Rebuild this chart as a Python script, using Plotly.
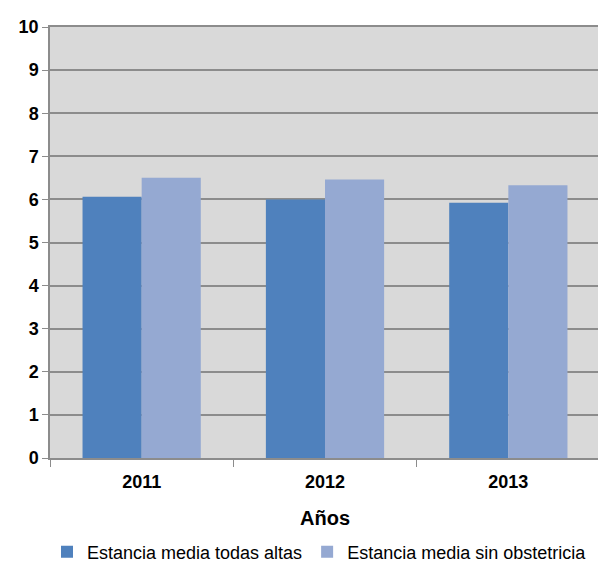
import plotly.graph_objects as go

years = ["2011", "2012", "2013"]
todas_altas = [6.06, 6.00, 5.92]
sin_obstetricia = [6.50, 6.46, 6.33]
y_ticks = list(range(0, 11))

fig = go.Figure()
fig.add_trace(go.Bar(x=years, y=todas_altas, name="Estancia media todas altas",
                     marker=dict(color="#4F81BD", line=dict(width=0))))
fig.add_trace(go.Bar(x=years, y=sin_obstetricia, name="Estancia media sin obstetricia",
                     marker=dict(color="#95A9D2", line=dict(width=0))))

fig.update_layout(
    width=606, height=565,
    margin=dict(l=42, r=14, t=19, b=115, autoexpand=False),
    paper_bgcolor="white",
    plot_bgcolor="#D9D9D9",
    barmode="group",
    bargap=0.355,
    bargroupgap=0,
    font=dict(family="Liberation Sans, Arial", color="black"),
    legend=dict(orientation="h", x=0.49, xanchor="center", y=-0.175, yanchor="top",
                font=dict(size=18, family="Liberation Sans, Arial"),
                itemwidth=30, tracegroupgap=0, bgcolor="rgba(0,0,0,0)"),
    showlegend=True,
)
fig.update_xaxes(
    title=dict(text="<b>Años</b>", font=dict(size=20), standoff=20),
    tickvals=years, ticktext=[f"<b>{y}</b>" for y in years],
    tickfont=dict(size=18, family="Liberation Sans, Arial"),
    ticklabelstandoff=7,
    showline=True, linecolor="#8C8C8C", linewidth=1.5, mirror=True,
    ticks="outside", ticklen=7, tickcolor="#8C8C8C",
    tickson="boundaries", automargin=False,
)
fig.update_yaxes(
    range=[0, 10], tickvals=y_ticks, ticktext=[f"<b>{v}</b>" for v in y_ticks],
    tickfont=dict(size=18, family="Liberation Sans, Arial"),
    showgrid=True, gridcolor="#8C8C8C", gridwidth=1.5,
    showline=True, linecolor="#8C8C8C", linewidth=1.5, mirror=True,
    ticks="outside", ticklen=6, tickcolor="#8C8C8C",
    zeroline=False, automargin=False,
)
fig.write_html("out.html")
